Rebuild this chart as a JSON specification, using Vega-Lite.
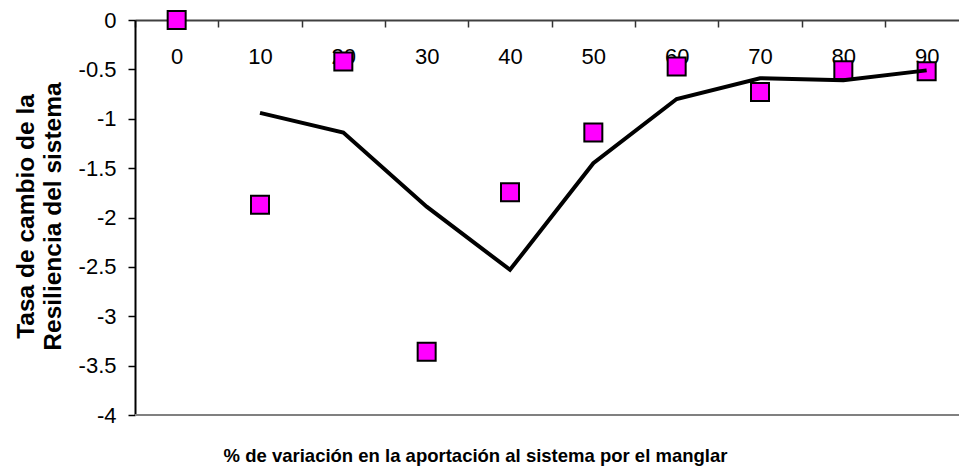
{
  "$schema": "https://vega.github.io/schema/vega-lite/v6.json",
  "autosize": "none",
  "width": 824,
  "height": 395,
  "padding": {"left": 135, "top": 20, "right": 0, "bottom": 53},
  "background": "white",
  "config": {
    "view": {"stroke": null},
    "font": "Liberation Sans"
  },
  "data": {
    "values": [
      {"x": 0, "pts": 0, "line": null},
      {"x": 10, "pts": -1.87, "line": -0.94},
      {"x": 20, "pts": -0.42, "line": -1.14},
      {"x": 30, "pts": -3.36, "line": -1.89},
      {"x": 40, "pts": -1.745, "line": -2.53},
      {"x": 50, "pts": -1.14, "line": -1.45},
      {"x": 60, "pts": -0.47, "line": -0.8},
      {"x": 70, "pts": -0.73, "line": -0.59},
      {"x": 80, "pts": -0.51, "line": -0.61},
      {"x": 90, "pts": -0.52, "line": -0.51}
    ]
  },
  "layer": [
    {
      "mark": {"type": "rule", "color": "#808080", "strokeWidth": 2},
      "encoding": {
        "y": {"datum": -4, "type": "quantitative"}
      }
    },
    {
      "mark": {"type": "point", "shape": "square", "filled": true, "fill": "#FF00FF", "stroke": "#000000", "strokeWidth": 2, "size": 324, "opacity": 1},
      "encoding": {
        "x": {
          "field": "x", "type": "quantitative",
          "scale": {"domain": [-5, 93.88], "nice": false, "zero": false},
          "axis": {
            "orient": "bottom",
            "offset": -395,
            "values": [-5, 5, 15, 25, 35, 45, 55, 65, 75, 85],
            "labelExpr": "'' + (datum.value + 5)",
            "labelOffset": 41.67,
            "labelFont": "Liberation Sans",
            "labelFontSize": 22,
            "labelColor": "#000000",
            "labelBaseline": "alphabetic",
            "labelPadding": 36,
            "labelOverlap": false,
            "labelFlush": false,
            "tickSize": 7,
            "tickColor": "#333333",
            "tickWidth": 1.5,
            "domainColor": "#404040",
            "domainWidth": 2,
            "grid": false,
            "title": "% de variación en la aportación al sistema por el manglar",
            "titleFont": "Liberation Sans",
            "titleFontSize": 18.5,
            "titleFontWeight": "bold",
            "titleColor": "#000000",
            "titleX": 340,
            "titleY": 441,
            "titleAlign": "center",
            "titleBaseline": "alphabetic"
          }
        },
        "y": {
          "field": "pts", "type": "quantitative",
          "scale": {"domain": [-4, 0], "nice": false, "zero": false},
          "axis": {
            "values": [-4, -3.5, -3, -2.5, -2, -1.5, -1, -0.5, 0],
            "labelExpr": "'' + datum.value",
            "labelFont": "Liberation Sans",
            "labelFontSize": 22,
            "labelColor": "#000000",
            "labelPadding": 12,
            "tickSize": 7,
            "tickColor": "#000000",
            "tickWidth": 1.5,
            "domainColor": "#000000",
            "domainWidth": 2,
            "grid": false,
            "title": ["Tasa de cambio de la", "Resiliencia del sistema"],
            "titleFont": "Liberation Sans",
            "titleFontSize": 24.5,
            "titleFontWeight": "bold",
            "titleColor": "#000000",
            "titleLineHeight": 27,
            "titleAngle": 270,
            "titleX": -102,
            "titleY": 196,
            "titleAlign": "center",
            "titleBaseline": "alphabetic"
          }
        }
      }
    },
    {
      "mark": {"type": "line", "color": "#000000", "strokeWidth": 4},
      "encoding": {
        "x": {"field": "x", "type": "quantitative"},
        "y": {"field": "line", "type": "quantitative"}
      }
    }
  ]
}
